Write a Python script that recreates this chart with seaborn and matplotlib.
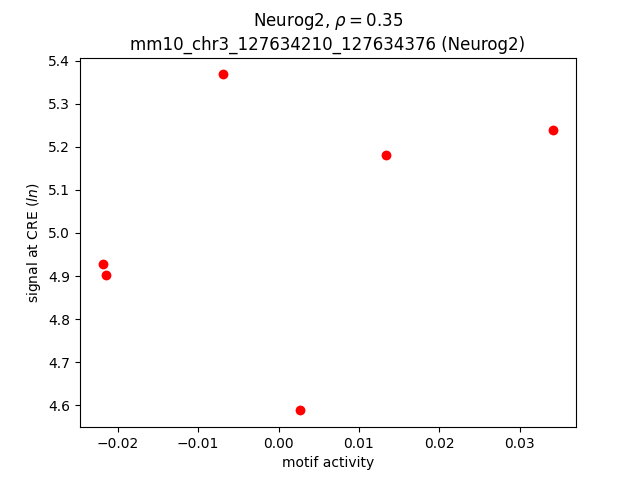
import matplotlib
matplotlib.use('Agg')
import matplotlib.pyplot as plt
import seaborn as sns
import pandas as pd

# Data
motif_activity = [-0.0219, -0.0215, -0.0069, 0.0027, 0.0134, 0.0342]
signal = [4.927, 4.903, 5.368, 4.588, 5.180, 5.238]

df = pd.DataFrame({'motif': motif_activity, 'signal': signal})

fig, ax = plt.subplots(figsize=(6.4, 4.8), dpi=100)
sns.scatterplot(data=df, x='motif', y='signal', color='red', s=50,
                linewidth=0, ax=ax)

ax.set_title('Neurog2, $\\rho = 0.35$\nmm10_chr3_127634210_127634376 (Neurog2)')
ax.set_xlabel('motif activity')
ax.set_ylabel('signal at CRE ($ln$)')

fig.savefig('out.png')
